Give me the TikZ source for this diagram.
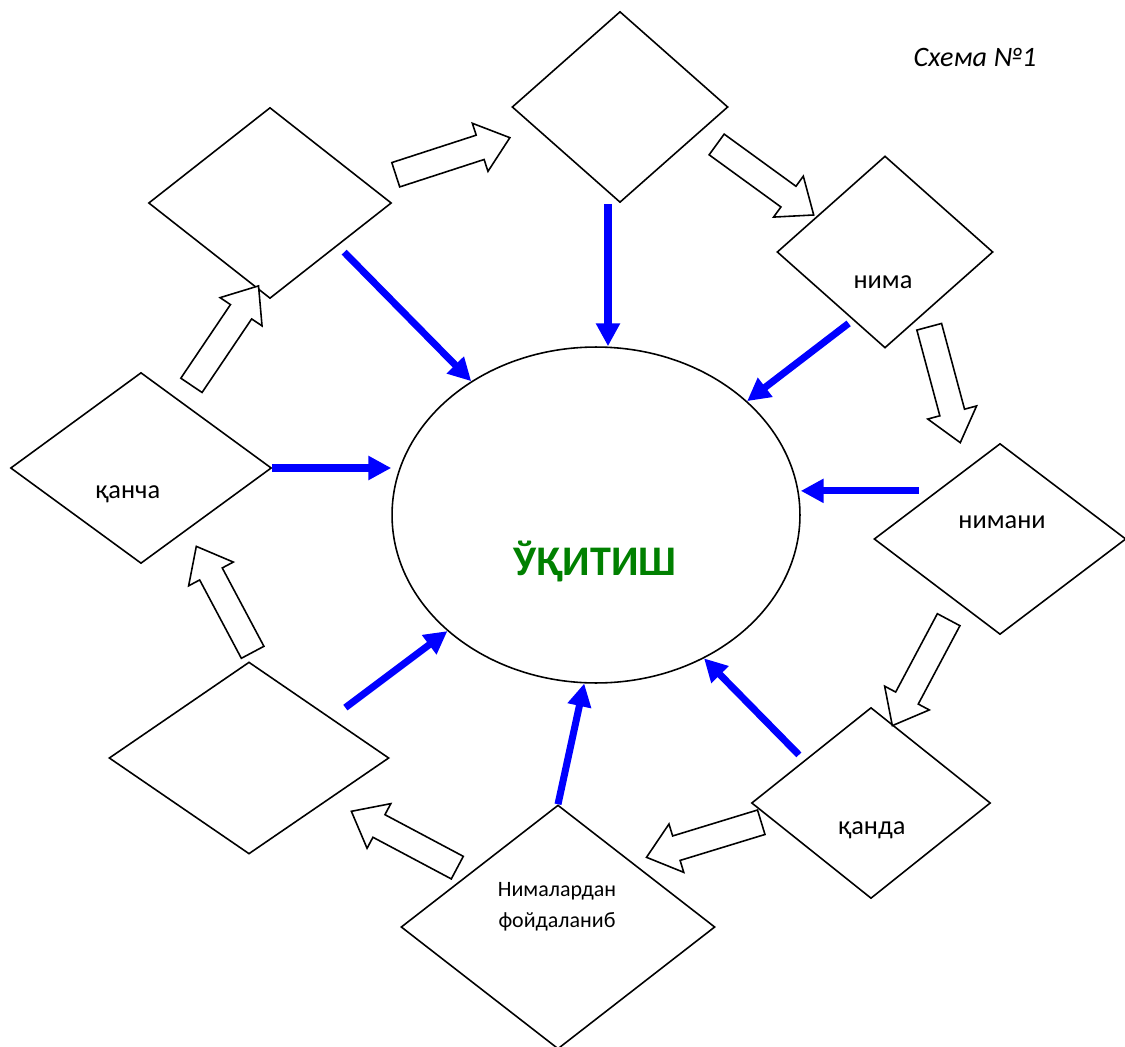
\documentclass[tikz,border=0pt]{standalone}
\usepackage{fontspec}
\setmainfont{Carlito}
\usetikzlibrary{shapes.geometric}
\usetikzlibrary{shapes.arrows}
\usetikzlibrary{arrows.meta}
\usetikzlibrary{calc}

\begin{document}
\begin{tikzpicture}[x=0.02cm,y=-0.02cm,
 box/.style={draw,line width=0.9pt,diamond,inner sep=0pt},
 word/.style={anchor=base,font=\fontsize{15}{18}\selectfont},
 hollow/.style={draw,line width=0.9pt,fill=white,single arrow,inner xsep=0pt,inner ysep=0.24cm,
  single arrow head extend=0.25cm,single arrow tip angle=78,minimum height=2.4cm,anchor=tail},
 feed/.style={blue,line width=4pt,-{Triangle[length=13pt,width=13pt]}}]
 \useasboundingbox (0,0) rectangle (1125,1047);
 \node[draw,line width=0.9pt,ellipse,minimum width=8.16cm,minimum height=6.72cm] (goal) at (596,515) {};
 \node[box,minimum width=4.32cm,minimum height=3.82cm] (d1) at (620,107) {};
 \node[box,minimum width=4.86cm,minimum height=3.82cm] (d2) at (270,203) {};
 \node[box,minimum width=4.32cm,minimum height=3.84cm] (d3) at (885,252) {};
 \node[box,minimum width=5.04cm,minimum height=3.82cm] (d4) at (1000,539) {};
 \node[box,minimum width=4.78cm,minimum height=3.82cm] (d5) at (871,803) {};
 \node[box,minimum width=6.28cm,minimum height=4.88cm] (d6) at (558,927) {};
 \node[box,minimum width=5.60cm,minimum height=3.84cm] (d7) at (249,758) {};
 \node[box,minimum width=5.22cm,minimum height=3.82cm] (d8) at (141,468) {};
 \node[word] (w3) at ($(d3)+(-2,37)$) {нима};
 \node[word] (w4) at ($(d4)+(2,-11)$) {нимани};
 \node[word] (w5) at ($(d5)+(1,31)$) {қанда};
 \node[word] (w8) at ($(d8)+(-13,30)$) {қанча};
 \node[font=\fontsize{12.5}{17.6}\selectfont,align=center] (w6) at ($(d6)+(-1,-20)$) {Нималардан\\фойдаланиб};
 \node[anchor=base,text=green!50!black,font=\fontsize{24}{28}\selectfont\bfseries] (title) at ($(goal)+(-1,60)$) {ЎҚИТИШ};
 \node[anchor=base,font=\fontsize{16}{19}\selectfont\itshape] (tag) at (975,67) {Схема №1};
 \node[hollow,rotate=18] (h1) at (395,175) {};
 \node[hollow,rotate=-36] (h2) at (716,144) {};
 \node[hollow,rotate=-75] (h3) at (929,326) {};
 \node[hollow,rotate=242] (h4) at (949,619) {};
 \node[hollow,rotate=197] (h5) at (762,822) {};
 \node[hollow,rotate=152] (h6) at (458,868) {};
 \node[hollow,rotate=118] (h7) at (253,653) {};
 \node[hollow,rotate=56] (h8) at (191,386) {};
 \draw[feed] ($(d2.south east)+(13,1)$) -- (goal.133);
 \coordinate (s1) at ($(d1.south)+(-12,1)$);
 \draw[feed] (s1) -- (s1 |- goal.north);
 \draw[feed] ($(d3.south west)+(18,23)$) -- (goal.37);
 \coordinate (s4) at ($(d4.north west)+(-18,0)$);
 \draw[feed] (s4) -- (s4 -| goal.east);
 \draw[feed] ($(d5.north west)+(-12,0)$) -- (goal.307);
 \draw[feed] (d6.north) -- (goal.266);
 \draw[feed] ($(d7.north east)+(26,-2)$) -- (goal.218);
 \draw[feed] (d8.east) -- (d8.east -| goal.west);
\end{tikzpicture}
\end{document}
